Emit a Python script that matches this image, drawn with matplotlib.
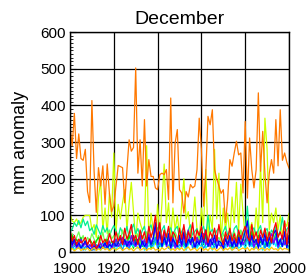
import numpy as np
import matplotlib
matplotlib.use("Agg")
import matplotlib.pyplot as plt
from matplotlib.ticker import MultipleLocator

years = np.arange(1900, 2001)

# December rainfall anomaly (mm), one series per region
orange = [340, 290, 378, 255, 322, 255, 250, 280, 165, 135,
          413, 220, 108, 230, 180, 235, 130, 240, 160, 110,
          125, 180, 236, 233, 230, 134, 225, 306, 275, 285,
          502, 215, 306, 180, 361, 180, 252, 206, 206, 175,
          170, 211, 215, 211, 225, 143, 420, 134, 297, 334,
          170, 161, 106, 165, 150, 184, 175, 180, 225, 365,
          280, 125, 215, 370, 347, 388, 225, 200, 180, 160,
          170, 80, 145, 252, 234, 270, 302, 265, 270, 161,
          356, 147, 311, 225, 175, 225, 434, 220, 329, 215,
          134, 215, 252, 215, 361, 235, 388, 250, 270, 245,
          229]

yellowgreen = [105, 85, 80, 90, 75, 80, 95, 100, 100, 100,
               60, 75, 40, 150, 195, 60, 120, 50, 160, 95,
               270, 55, 130, 90, 134, 170, 60, 134, 190, 110,
               30, 106, 80, 60, 70, 290, 30, 106, 60, 20,
               130, 45, 134, 240, 80, 134, 40, 120, 60, 100,
               45, 130, 200, 90, 110, 50, 80, 150, 60, 30,
               120, 70, 225, 40, 100, 60, 280, 90, 215, 30,
               120, 60, 106, 40, 150, 80, 190, 60, 185, 106,
               40, 90, 60, 80, 30, 120, 50, 238, 80, 365,
               280, 60, 106, 80, 120, 60, 100, 40, 80, 70,
               105]

springgreen = [55, 62, 80, 70, 86, 66, 90, 72, 84, 58,
               66, 48, 74, 60, 46, 72, 54, 66, 42, 60,
               72, 58, 40, 66, 52, 44, 70, 38, 60, 76,
               50, 64, 42, 58, 70, 36, 62, 74, 48, 56,
               66, 40, 60, 72, 36, 58, 66, 44, 62, 70,
               38, 56, 68, 42, 60, 74, 46, 56, 64, 40,
               58, 70, 44, 100, 52, 62, 40, 58, 66, 42,
               56, 70, 46, 60, 38, 64, 72, 48, 58, 44,
               62, 125, 40, 58, 66, 46, 60, 72, 42, 56,
               64, 38, 60, 50, 70, 44, 58, 95, 46, 62,
               70]

lightgreen = [35, 50, 25, 40, 55, 30, 45, 20, 40, 30,
              50, 35, 25, 45, 30, 55, 20, 40, 60, 35,
              45, 25, 50, 30, 60, 40, 25, 55, 35, 45,
              30, 50, 20, 45, 35, 55, 25, 40, 60, 30,
              45, 60, 35, 20, 50, 30, 45, 25, 55, 40,
              30, 50, 20, 45, 35, 60, 25, 40, 30, 55,
              40, 25, 50, 35, 20, 45, 60, 30, 40, 25,
              50, 35, 20, 45, 30, 55, 40, 25, 60, 35,
              45, 30, 55, 20, 40, 25, 50, 35, 45, 30,
              55, 25, 40, 30, 60, 35, 20, 45, 30, 50,
              40]

green = [30, 45, 20, 35, 25, 40, 15, 30, 20, 35,
         25, 15, 30, 40, 20, 10, 25, 35, 15, 30,
         20, 35, 25, 15, 40, 30, 20, 45, 25, 10,
         35, 25, 40, 15, 30, 20, 45, 10, 30, 25,
         40, 15, 30, 50, 25, 35, 20, 45, 15, 30,
         25, 40, 15, 35, 20, 45, 30, 10, 40, 25,
         35, 20, 45, 15, 30, 40, 20, 35, 25, 15,
         30, 45, 20, 35, 10, 40, 25, 50, 20, 35,
         25, 40, 15, 55, 30, 20, 45, 25, 35, 15,
         40, 20, 35, 25, 50, 15, 30, 45, 20, 35,
         25]

cyan = [10, 20, 5, 15, 25, 10, 15, 5, 20, 10,
        5, 10, 20, 15, 5, 15, 25, 10, 15, 20,
        15, 5, 20, 10, 25, 15, 30, 10, 20, 15,
        25, 10, 15, 30, 5, 20, 15, 25, 10, 35,
        15, 20, 10, 25, 30, 15, 5, 20, 35, 10,
        10, 25, 15, 5, 20, 30, 15, 25, 10, 20,
        15, 30, 10, 20, 25, 5, 30, 15, 20, 25,
        20, 10, 25, 15, 5, 20, 30, 10, 15, 25,
        10, 25, 35, 15, 20, 10, 25, 15, 5, 30,
        20, 10, 25, 35, 15, 30, 10, 20, 25, 15,
        10]

azure = [20, 10, 15, 25, 10, 20, 5, 15, 10, 20,
         15, 5, 20, 10, 15, 25, 10, 20, 5, 15,
         10, 25, 15, 20, 5, 30, 15, 10, 25, 20,
         15, 30, 10, 20, 25, 5, 35, 15, 20, 40,
         10, 25, 15, 30, 20, 10, 35, 15, 25, 10,
         20, 15, 30, 10, 25, 35, 10, 20, 15, 30,
         25, 10, 20, 30, 15, 25, 10, 35, 20, 15,
         5, 20, 30, 15, 25, 10, 20, 35, 15, 25,
         20, 40, 15, 25, 10, 30, 20, 15, 35, 10,
         25, 15, 30, 20, 45, 10, 25, 15, 30, 20,
         15]

purple = [40, 15, 30, 10, 20, 35, 15, 25, 10, 20,
          10, 20, 5, 15, 25, 10, 20, 15, 30, 10,
          20, 35, 15, 25, 40, 20, 30, 15, 45, 25,
          15, 30, 45, 20, 35, 15, 50, 25, 40, 70,
          20, 45, 30, 55, 15, 35, 25, 40, 10, 30,
          35, 15, 45, 25, 60, 20, 35, 10, 40, 25,
          30, 50, 20, 35, 15, 40, 25, 45, 20, 15,
          25, 40, 15, 30, 20, 35, 10, 25, 45, 20,
          35, 60, 25, 40, 15, 30, 20, 45, 25, 35,
          20, 35, 50, 25, 40, 15, 30, 45, 20, 30,
          25]

blue = [50, 20, 35, 15, 25, 10, 20, 30, 15, 10,
        5, 15, 10, 20, 10, 15, 25, 10, 20, 15,
        30, 15, 25, 40, 20, 35, 15, 30, 20, 45,
        20, 35, 10, 30, 15, 25, 40, 20, 35, 80,
        25, 55, 15, 40, 20, 50, 10, 35, 25, 15,
        45, 20, 55, 15, 35, 25, 40, 10, 30, 20,
        50, 25, 60, 15, 35, 20, 45, 10, 30, 25,
        10, 35, 20, 45, 15, 30, 10, 40, 20, 35,
        55, 85, 20, 45, 25, 35, 10, 40, 20, 50,
        15, 40, 25, 50, 60, 20, 35, 15, 55, 10,
        45]

red = [60, 30, 45, 20, 35, 25, 30, 40, 20, 35,
       15, 30, 10, 20, 45, 25, 35, 20, 50, 30,
       25, 55, 30, 45, 20, 65, 35, 50, 75, 30,
       45, 20, 60, 35, 55, 25, 70, 40, 60, 100,
       35, 80, 25, 60, 40, 70, 30, 55, 45, 20,
       65, 35, 75, 25, 55, 40, 80, 30, 60, 45,
       70, 35, 60, 25, 55, 40, 65, 30, 75, 40,
       20, 55, 35, 65, 30, 50, 25, 60, 35, 55,
       70, 40, 30, 75, 35, 55, 25, 60, 40, 65,
       30, 55, 25, 60, 80, 40, 55, 35, 85, 20,
       80]

gold = [5, 10, 3, 8, 12, 4, 9, 6, 11, 3,
        7, 12, 4, 9, 5, 14, 6, 10, 3, 8,
        11, 5, 9, 13, 4, 8, 12, 6, 10, 3,
        9, 14, 5, 8, 11, 4, 10, 7, 13, 5,
        8, 3, 12, 6, 10, 15, 5, 9, 4, 11,
        6, 12, 4, 9, 14, 5, 8, 11, 3, 10,
        13, 5, 9, 4, 12, 7, 10, 3, 8, 14,
        4, 10, 6, 12, 5, 9, 13, 4, 8, 11,
        7, 12, 3, 10, 6, 14, 5, 9, 11, 4,
        10, 5, 13, 7, 9, 4, 12, 6, 10, 8,
        5]

series = [
    (yellowgreen, "#ccff00"),
    (springgreen, "#00f090"),
    (lightgreen, "#70ff50"),
    (green, "#00e000"),
    (cyan, "#00ffff"),
    (azure, "#0090ff"),
    (purple, "#8000ff"),
    (blue, "#0000ff"),
    (red, "#ff0000"),
    (gold, "#ffc800"),
    (orange, "#ff7800"),
]

plt.rcParams["font.family"] = ["Liberation Sans", "DejaVu Sans"]

fig = plt.figure(figsize=(3.08, 2.78), dpi=100)
ax = fig.add_axes([70 / 308, 26 / 278, 219 / 308, 220 / 278])

for vals, col in series:
    ax.plot(years, vals, color=col, lw=0.9)

ax.set_xlim(1900, 2000)
ax.set_ylim(0, 600)
ax.set_xticks([1900, 1920, 1940, 1960, 1980, 2000])
ax.set_yticks([0, 100, 200, 300, 400, 500, 600])
ax.yaxis.set_minor_locator(MultipleLocator(10))
ax.grid(True, color="black", lw=0.9)
ax.tick_params(axis="y", which="major", direction="in", length=4, labelsize=11, pad=3)
ax.tick_params(axis="y", which="minor", direction="in", length=2)
ax.tick_params(axis="x", direction="in", length=0, labelsize=11, pad=7)
for s in ax.spines.values():
    s.set_linewidth(1.0)

ax.set_title("December", fontsize=14, pad=6)
ax.set_ylabel("mm anomaly", fontsize=13, labelpad=8)

fig.savefig("out.png", dpi=100)
